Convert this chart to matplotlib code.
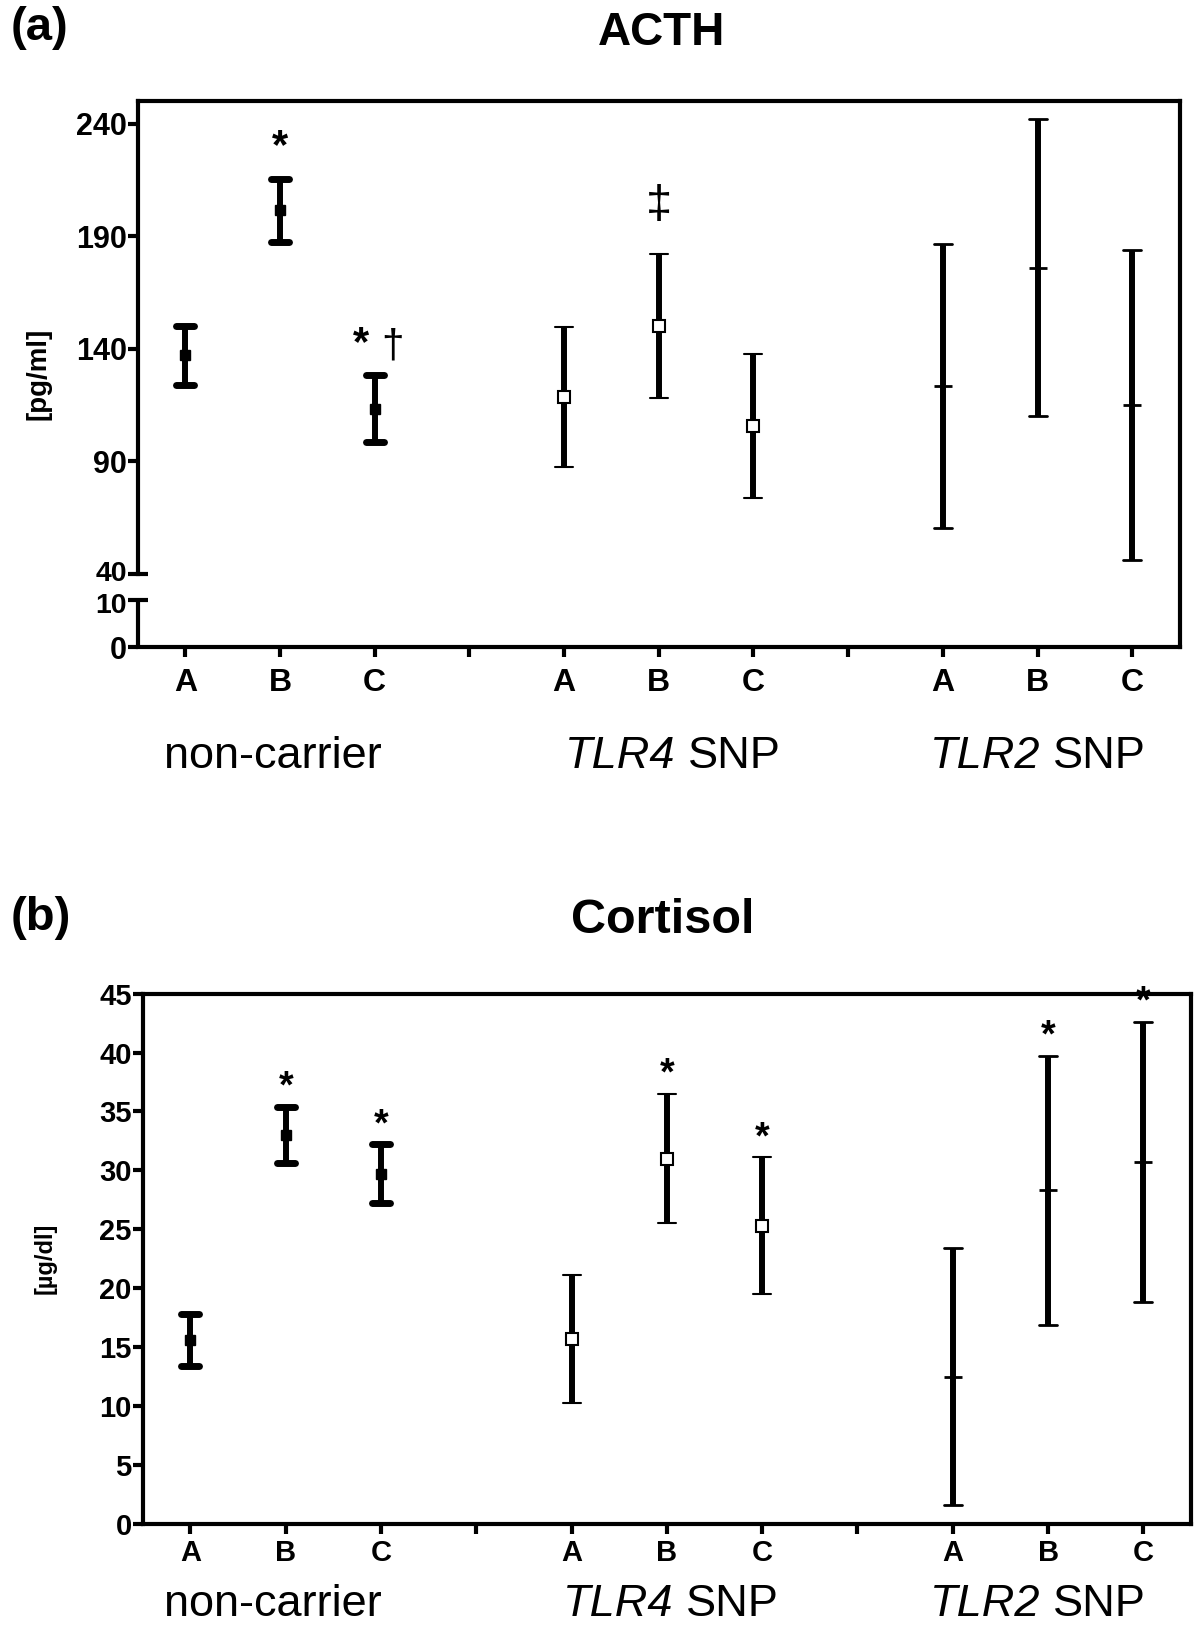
import numpy as np
import matplotlib.pyplot as plt
from matplotlib.markers import MarkerStyle
from matplotlib.offsetbox import TextArea, HPacker, AnnotationBbox
from matplotlib.transforms import ScaledTranslation

plt.rcParams['font.family'] = ['Liberation Sans', 'DejaVu Sans']

# data (mean +/- error)
conditions = ['A', 'B', 'C']
group_italic = ['', 'TLR4', 'TLR2']
group_plain = ['non-carrier', 'SNP', 'SNP']

acth_mean = [137.0, 201.6, 113.4, 118.5, 150.0, 105.6, 123.5, 176.0, 115.0]
acth_err = [13.0, 14.0, 15.0, 31.0, 32.0, 32.0, 63.0, 66.0, 69.0]
acth_star = [False, True, True, False, False, False, False, False, False]
acth_other = ['', '', '\u2020', '', '\u2021', '', '', '', '']

cort_mean = [15.6, 33.0, 29.7, 15.7, 31.0, 25.3, 12.5, 28.3, 30.7]
cort_err = [2.2, 2.4, 2.5, 5.4, 5.5, 5.8, 10.9, 11.4, 11.9]
cort_star = [False, True, True, False, True, True, False, True, True]
cort_other = [''] * 9

acth_ticks = [0, 10, 40, 90, 140, 190, 240]
cort_ticks = [0, 5, 10, 15, 20, 25, 30, 35, 40, 45]

# x positions: 3 conditions per group, one empty slot between groups
xpos = np.array([g * 4 + c + 1 for g in range(len(group_plain)) for c in range(len(conditions))])
sep_pos = [4, 8]

marker_styles = [
    dict(marker='s', ms=7, mfc='k', mec='k'),
    dict(marker='s', ms=9, mfc='white', mec='k', mew=1.5),
    dict(marker='_', ms=13, mec='k', mew=2),
]
other_offset = {'\u2020': 7, '\u2021': 19}
other_size = {'\u2020': 29, '\u2021': 34}


# broken axis for ACTH: 0-10, squeezed gap 10-40, then 40-250
def fwd(y):
    y = np.asarray(y, dtype=float)
    return np.where(y <= 10, y * 4.7,
                    np.where(y <= 40, 47 + (y - 10) * 26 / 30, 73 + (y - 40) * 2.248))


def inv(u):
    u = np.asarray(u, dtype=float)
    return np.where(u <= 47, u / 4.7,
                    np.where(u <= 73, 10 + (u - 47) * 30 / 26, 40 + (u - 73) / 2.248))


def draw_panel(ax, mean, err, stars, others, ticks, ytick_size, xtick_size, xpad,
               grp_offset, grp_dx, star_size, star_offset):
    mean = np.array(mean)
    err = np.array(err)
    for g in range(len(group_plain)):
        sl = slice(g * 3, g * 3 + 3)
        _, caps, _ = ax.errorbar(xpos[sl], mean[sl], yerr=err[sl], ls='none', color='k',
                                 elinewidth=4.3, capsize=6.5, capthick=5, **marker_styles[g])
        for cap in caps:
            cap.set_marker(MarkerStyle('_', capstyle='round'))

    for x, m, e, st, ot in zip(xpos, mean, err, stars, others):
        dx = -10 if (st and ot) else 0
        if st:
            ax.annotate('*', xy=(x, m + e), xytext=(dx, star_offset), textcoords='offset points',
                        ha='center', va='bottom', fontsize=star_size, fontweight='bold',
                        annotation_clip=False)
        if ot:
            ax.annotate(ot, xy=(x, m + e), xytext=(13 if st else 0, other_offset[ot]),
                        textcoords='offset points', ha='center', va='bottom',
                        fontsize=other_size[ot], annotation_clip=False)

    ax.set_xlim(0.5, 11.5)
    xt = sorted(list(xpos) + sep_pos)
    ax.set_xticks(xt)
    ax.set_xticklabels([conditions[(x - 1) % 4] if x not in sep_pos else '' for x in xt])
    ax.set_yticks(ticks)
    for s in ax.spines.values():
        s.set_linewidth(3)
    ax.tick_params(axis='both', which='major', direction='out', length=7, width=3)
    ax.tick_params(axis='y', labelsize=ytick_size, pad=1)
    ax.tick_params(axis='x', labelsize=xtick_size, pad=xpad)
    plt.setp(ax.get_xticklabels() + ax.get_yticklabels(), fontweight='bold')

    # group names under the tick labels, italic gene name + plain text
    for g in range(len(group_plain)):
        parts = []
        if group_italic[g]:
            parts.append(TextArea(group_italic[g], textprops=dict(fontsize=32.5, style='italic')))
        parts.append(TextArea(group_plain[g], textprops=dict(fontsize=32.5)))
        box = HPacker(children=parts, align='baseline', pad=0, sep=9)
        ab = AnnotationBbox(box, (xpos[g * 3 + 1], 0), xycoords=('data', 'axes fraction'),
                            xybox=(grp_dx[g], -grp_offset), boxcoords='offset points',
                            frameon=False, pad=0, box_alignment=(0.5, 0.5),
                            annotation_clip=False)
        ax.add_artist(ab)


fig = plt.figure(figsize=(12, 16.27), dpi=100)

# (a) ACTH
ax1 = fig.add_axes([0.115, 0.6023, 0.868, 0.3356])
ax1.set_yscale('function', functions=(fwd, inv))
ax1.set_ylim(0, 250)
draw_panel(ax1, acth_mean, acth_err, acth_star, acth_other, acth_ticks, 22, 23, 8,
           79, [-5, 10, 0], 30, 8)
ax1.spines['left'].set_bounds(40, 250)
ax1.plot([0, 0], [0, 10], transform=ax1.get_yaxis_transform(), color='k', lw=3,
         clip_on=False, solid_capstyle='butt')
ax1.set_yticks([10, 40], minor=True)
ax1.yaxis.remove_overlapping_locs = False
ax1.tick_params(axis='y', which='minor', direction='in', length=7, width=3)
ax1.set_ylabel('[pg/ml]', fontsize=20, fontweight='bold')
ax1.yaxis.set_label_coords(-0.083, 0.5)

# nudge the crowded 40 / 10 labels apart a little
for tick in ax1.yaxis.get_major_ticks():
    v = tick.get_loc()
    if v in (10, 40):
        shift = 3 if v == 40 else -3
        tick.label1.set_fontsize(20.5)
        tick.label1.set_transform(tick.label1.get_transform()
                                  + ScaledTranslation(0, shift / 100, fig.dpi_scale_trans))

# (b) Cortisol
ax2 = fig.add_axes([0.119, 0.0633, 0.8735, 0.326])
ax2.set_ylim(0, 45)
draw_panel(ax2, cort_mean, cort_err, cort_star, cort_other, cort_ticks, 21, 21, 4,
           58, [-9, 3, -7], 27, 1)
ax2.set_ylabel('[\u00b5g/dl]', fontsize=17, fontweight='bold')
ax2.yaxis.set_label_coords(-0.082, 0.5)

fig.text(0.0087, 0.983, '(a)', fontsize=34, fontweight='bold', ha='left', va='center')
fig.text(0.551, 0.9797, 'ACTH', fontsize=33, fontweight='bold', ha='center', va='center')
fig.text(0.0087, 0.4355, '(b)', fontsize=34, fontweight='bold', ha='left', va='center')
fig.text(0.552, 0.434, 'Cortisol', fontsize=35, fontweight='bold', ha='center', va='center')

fig.savefig('out.png', dpi=100)
